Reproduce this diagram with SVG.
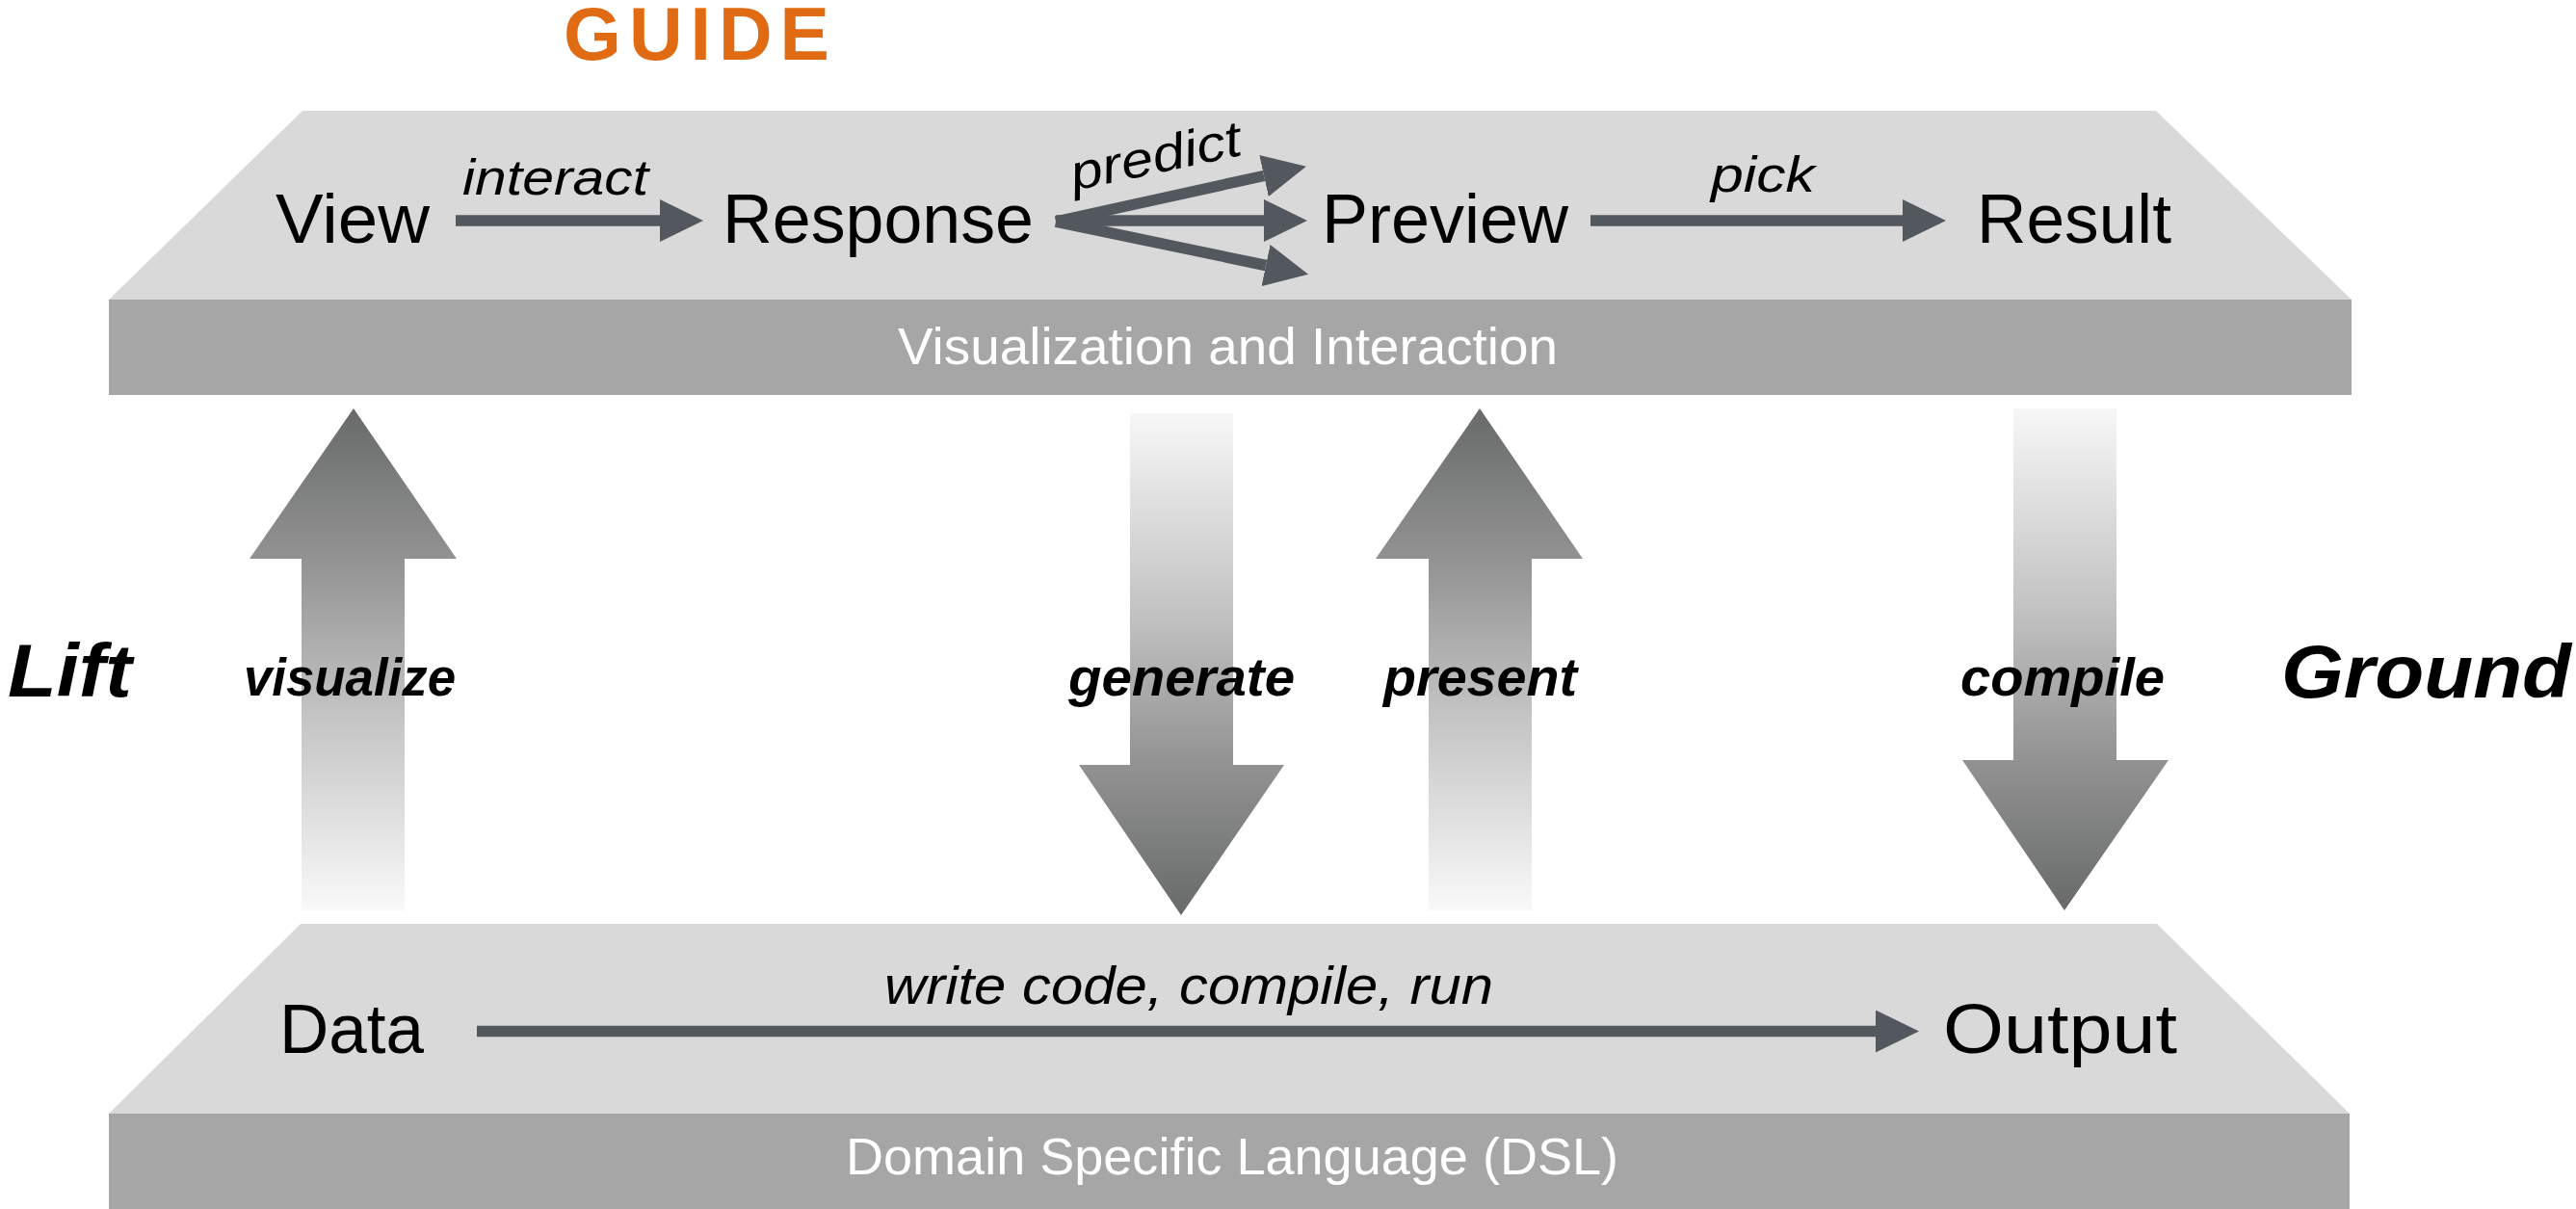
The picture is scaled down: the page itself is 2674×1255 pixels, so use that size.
<svg xmlns="http://www.w3.org/2000/svg" width="2674" height="1255" viewBox="0 0 2674 1255">
  <style>
    .face { fill: #D9D9D9; }
    .front { fill: #A6A6A6; }
    .node { font-family: "Liberation Sans", Arial, sans-serif; font-size: 72px; fill: #000; }
    .lab { font-family: "Liberation Sans", Arial, sans-serif; font-style: italic; font-size: 52px; fill: #000; }
    .layer { font-family: "Liberation Sans", Arial, sans-serif; font-size: 53px; fill: #FFFFFF; }
    .vlab { font-family: "Liberation Sans", Arial, sans-serif; font-style: italic; font-weight: bold; font-size: 56px; fill: #000; }
    .side { font-family: "Liberation Sans", Arial, sans-serif; font-style: italic; font-weight: bold; font-size: 78px; fill: #000; }
    .title { font-family: "Liberation Sans", Arial, sans-serif; font-weight: bold; font-size: 77px; fill: #E06B12; letter-spacing: 8px; }
    .conn { stroke: #53575E; stroke-width: 11.5; fill: none; marker-end: url(#head); }
  </style>
  <defs>
    <marker id="head" markerUnits="userSpaceOnUse" markerWidth="46" markerHeight="44" refX="0" refY="22" orient="auto">
      <path d="M0,0 L45,22 L0,44 z" fill="#53575E"/>
    </marker>
    <linearGradient id="gUp" gradientUnits="objectBoundingBox" x1="0" y1="0" x2="0" y2="1">
      <stop offset="0" stop-color="#686A6A"/>
      <stop offset="0.3" stop-color="#929292"/>
      <stop offset="0.6" stop-color="#C2C2C2"/>
      <stop offset="1" stop-color="#F9F9F9"/>
    </linearGradient>
    <linearGradient id="gDown" gradientUnits="objectBoundingBox" x1="0" y1="0" x2="0" y2="1">
      <stop offset="0" stop-color="#F7F7F7"/>
      <stop offset="0.4" stop-color="#C2C2C2"/>
      <stop offset="0.7" stop-color="#929292"/>
      <stop offset="1" stop-color="#686A6A"/>
    </linearGradient>
  </defs>

  <text id="title" class="title" x="585" y="62">GUIDE</text>

  <g id="layer-top">
    <polygon class="face" points="314,115 2238,115 2441,311 113,311"/>
    <rect class="front" x="113" y="311" width="2328" height="99"/>
    <text class="layer" x="932" y="378" textLength="685" lengthAdjust="spacingAndGlyphs">Visualization and Interaction</text>
  </g>

  <g id="layer-bottom">
    <polygon class="face" points="312,959 2239,959 2439,1156 113,1156"/>
    <rect class="front" x="113" y="1156" width="2326" height="99"/>
    <text class="layer" x="878" y="1219" textLength="802" lengthAdjust="spacingAndGlyphs">Domain Specific Language (DSL)</text>
  </g>

  <g id="node-view"><text class="node" x="286" y="252" textLength="160" lengthAdjust="spacingAndGlyphs">View</text></g>
  <g id="node-response"><text class="node" x="750" y="252" textLength="323" lengthAdjust="spacingAndGlyphs">Response</text></g>
  <g id="node-preview"><text class="node" x="1372" y="252" textLength="256" lengthAdjust="spacingAndGlyphs">Preview</text></g>
  <g id="node-result"><text class="node" x="2052" y="252" textLength="202" lengthAdjust="spacingAndGlyphs">Result</text></g>
  <g id="node-data"><text class="node" x="290" y="1093" textLength="150" lengthAdjust="spacingAndGlyphs">Data</text></g>
  <g id="node-output"><text class="node" x="2017" y="1093" textLength="243" lengthAdjust="spacingAndGlyphs">Output</text></g>

  <g id="side-labels">
    <text class="side" x="8" y="723" textLength="129" lengthAdjust="spacingAndGlyphs">Lift</text>
    <text class="side" x="2368" y="724" textLength="301" lengthAdjust="spacingAndGlyphs">Ground</text>
  </g>

  <g id="connectors">
    <line class="conn" x1="473" y1="229" x2="685" y2="229"/>
    <text class="lab" x="480" y="202" textLength="193" lengthAdjust="spacingAndGlyphs">interact</text>

    <line class="conn" x1="1096" y1="230" x2="1312" y2="182.5"/>
    <line class="conn" x1="1096" y1="229" x2="1312" y2="229"/>
    <line class="conn" x1="1096" y1="230" x2="1314" y2="275.5"/>
    <text class="lab" transform="translate(1115,198) rotate(-12)" textLength="180" lengthAdjust="spacingAndGlyphs">predict</text>

    <line class="conn" x1="1651" y1="229" x2="1975" y2="229"/>
    <text class="lab" x="1776" y="199" textLength="108" lengthAdjust="spacingAndGlyphs">pick</text>

    <line class="conn" x1="495" y1="1070.5" x2="1947" y2="1070.5"/>
    <text class="lab" style="font-size:56px" x="918" y="1042" textLength="632" lengthAdjust="spacingAndGlyphs">write code, compile, run</text>

    <polygon fill="url(#gUp)" points="367,424 474,580 420,580 420,945 313,945 313,580 259,580"/>
    <text class="vlab" x="253" y="722" textLength="220" lengthAdjust="spacingAndGlyphs">visualize</text>

    <polygon fill="url(#gDown)" points="1173,429 1280,429 1280,794 1333,794 1226,950 1120,794 1173,794"/>
    <text class="vlab" x="1109" y="722" textLength="235" lengthAdjust="spacingAndGlyphs">generate</text>

    <polygon fill="url(#gUp)" points="1536,424 1643,580 1590,580 1590,945 1483,945 1483,580 1428,580"/>
    <text class="vlab" x="1436" y="722" textLength="201" lengthAdjust="spacingAndGlyphs">present</text>

    <polygon fill="url(#gDown)" points="2090,424 2197,424 2197,789 2251,789 2143,945 2037,789 2090,789"/>
    <text class="vlab" x="2035" y="722" textLength="212" lengthAdjust="spacingAndGlyphs">compile</text>
  </g>
</svg>
